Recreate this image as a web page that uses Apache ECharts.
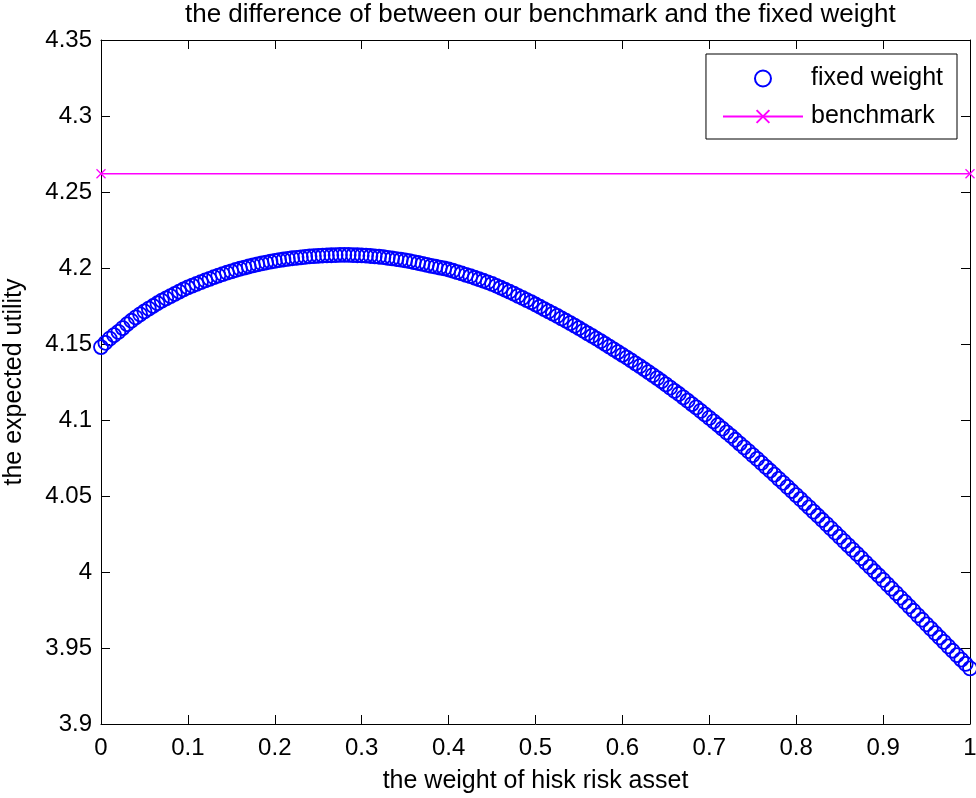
<!DOCTYPE html>
<html>
<head>
<meta charset="utf-8">
<script src="https://cdn.jsdelivr.net/npm/echarts@6/dist/echarts.min.js"></script>
<style>html,body{margin:0;padding:0;background:#fff}#c{width:976px;height:798px}</style>
</head>
<body>
<div id="c"></div>
<script>
const titleText = 'the difference of between our benchmark and the fixed weight';
const xName = 'the weight of hisk risk asset';
const yName = 'the expected utility';
const xTicks = [0, 0.1, 0.2, 0.3, 0.4, 0.5, 0.6, 0.7, 0.8, 0.9, 1];
const yTicks = [3.9, 3.95, 4, 4.05, 4.1, 4.15, 4.2, 4.25, 4.3, 4.35];
const weights = [
0,0.005,0.01,0.015,0.02,0.025,0.03,0.035,0.04,0.045,0.05,0.055,0.06,0.065,0.07,0.075,0.08,0.085,0.09,0.095,
0.1,0.105,0.11,0.115,0.12,0.125,0.13,0.135,0.14,0.145,0.15,0.155,0.16,0.165,0.17,0.175,0.18,0.185,0.19,0.195,
0.2,0.205,0.21,0.215,0.22,0.225,0.23,0.235,0.24,0.245,0.25,0.255,0.26,0.265,0.27,0.275,0.28,0.285,0.29,0.295,
0.3,0.305,0.31,0.315,0.32,0.325,0.33,0.335,0.34,0.345,0.35,0.355,0.36,0.365,0.37,0.375,0.38,0.385,0.39,0.395,
0.4,0.405,0.41,0.415,0.42,0.425,0.43,0.435,0.44,0.445,0.45,0.455,0.46,0.465,0.47,0.475,0.48,0.485,0.49,0.495,
0.5,0.505,0.51,0.515,0.52,0.525,0.53,0.535,0.54,0.545,0.55,0.555,0.56,0.565,0.57,0.575,0.58,0.585,0.59,0.595,
0.6,0.605,0.61,0.615,0.62,0.625,0.63,0.635,0.64,0.645,0.65,0.655,0.66,0.665,0.67,0.675,0.68,0.685,0.69,0.695,
0.7,0.705,0.71,0.715,0.72,0.725,0.73,0.735,0.74,0.745,0.75,0.755,0.76,0.765,0.77,0.775,0.78,0.785,0.79,0.795,
0.8,0.805,0.81,0.815,0.82,0.825,0.83,0.835,0.84,0.845,0.85,0.855,0.86,0.865,0.87,0.875,0.88,0.885,0.89,0.895,
0.9,0.905,0.91,0.915,0.92,0.925,0.93,0.935,0.94,0.945,0.95,0.955,0.96,0.965,0.97,0.975,0.98,0.985,0.99,0.995,
1];
const fixedUtility = [
4.148,4.1508,4.1535,4.1558,4.158,4.1605,4.163,4.1653,4.1675,4.1695,4.1715,4.1733,4.175,4.1768,4.1785,4.18,4.1815,4.183,4.1845,4.1859,
4.1872,4.1884,4.1895,4.1907,4.1918,4.1929,4.194,4.195,4.196,4.1969,4.1978,4.1987,4.1995,4.2003,4.201,4.2017,4.2024,4.203,4.2036,4.2042,
4.2047,4.2052,4.2056,4.206,4.2064,4.2067,4.207,4.2073,4.2076,4.2078,4.208,4.2082,4.2083,4.2084,4.2085,4.2086,4.2086,4.2086,4.2085,4.2084,
4.2083,4.2081,4.2079,4.2077,4.2074,4.2071,4.2067,4.2063,4.2059,4.2055,4.205,4.2045,4.2039,4.2033,4.2027,4.2021,4.2014,4.2009,4.2003,4.1997,
4.199,4.1982,4.1973,4.1964,4.1955,4.1946,4.1936,4.1926,4.1916,4.1906,4.1895,4.1883,4.187,4.1857,4.1844,4.1831,4.1817,4.1803,4.1789,4.1775,
4.176,4.1745,4.173,4.1715,4.17,4.1685,4.1669,4.1653,4.1637,4.1621,4.1604,4.1587,4.157,4.1553,4.1536,4.1519,4.1501,4.1483,4.1465,4.1447,
4.1429,4.1411,4.1392,4.1373,4.1354,4.1335,4.1315,4.1295,4.1275,4.1255,4.1234,4.1213,4.1192,4.1171,4.1149,4.1127,4.1105,4.1083,4.106,4.1037,
4.1014,4.0991,4.0967,4.0943,4.0919,4.0895,4.087,4.0845,4.082,4.0795,4.0769,4.0744,4.0718,4.0692,4.0666,4.064,4.0613,4.0587,4.056,4.0533,
4.0506,4.0479,4.0452,4.0425,4.0397,4.037,4.0342,4.0315,4.0287,4.0259,4.0231,4.0203,4.0175,4.0147,4.0119,4.0091,4.0062,4.0034,4.0005,3.9977,
3.9948,3.9919,3.989,3.9861,3.9832,3.9803,3.9774,3.9745,3.9715,3.9686,3.9656,3.9627,3.9598,3.9569,3.954,3.9511,3.9482,3.9453,3.9424,3.9395,
3.9366];
const benchX = [0, 1];
const benchY = [4.262, 4.262];

const FONT = 'Liberation Sans';
const fmt = v => String(+(+v).toFixed(2));
const xMin = xTicks[0], xMax = xTicks[xTicks.length - 1], xInt = +(xTicks[1] - xTicks[0]).toFixed(2);
const yMin = yTicks[0], yMax = yTicks[yTicks.length - 1], yInt = +(yTicks[1] - yTicks[0]).toFixed(2);

function axisBase(extra) {
  return Object.assign({
    axisLine: { show: true, onZero: false, lineStyle: { color: '#000', width: 1 } },
    axisTick: { show: true, inside: true, length: 9, lineStyle: { color: '#000', width: 1 } },
    splitLine: { show: false },
  }, extra);
}

const chart = echarts.init(document.getElementById('c'), null, { renderer: 'canvas' });
chart.setOption({
  backgroundColor: '#fff',
  animation: false,
  textStyle: { fontFamily: FONT },
  title: {
    text: titleText, left: 180, top: -3,
    textStyle: { fontFamily: FONT, fontSize: 26, fontWeight: 'normal', color: '#000' }
  },
  grid: { left: 101, right: 6, top: 40, bottom: 74, containLabel: false, outerBoundsMode: 'none' },
  legend: {
    orient: 'vertical', right: 19, top: 54,
    padding: [12, 14, 10, 16], itemGap: 13,
    itemWidth: 80, itemHeight: 16,
    borderColor: '#000', borderWidth: 1, backgroundColor: '#fff',
    textStyle: { fontFamily: FONT, fontSize: 25, color: '#000', padding: [0, 0, 0, 3] },
    data: ['fixed weight', 'benchmark']
  },
  xAxis: [
    axisBase({ type: 'value', position: 'bottom', min: xMin, max: xMax, interval: xInt,
      name: xName, nameLocation: 'middle', nameGap: 45,
      nameTextStyle: { fontFamily: FONT, fontSize: 25, color: '#000' },
      axisLabel: { fontFamily: FONT, fontSize: 24, color: '#000', margin: 12, formatter: fmt } }),
    axisBase({ type: 'value', position: 'top', min: xMin, max: xMax, interval: xInt,
      axisLabel: { show: false } })
  ],
  yAxis: [
    axisBase({ type: 'value', position: 'left', min: yMin, max: yMax, interval: yInt,
      name: yName, nameLocation: 'middle', nameGap: 74,
      nameTextStyle: { fontFamily: FONT, fontSize: 25, color: '#000' },
      axisLabel: { fontFamily: FONT, fontSize: 24, color: '#000', margin: 9, formatter: fmt } }),
    axisBase({ type: 'value', position: 'right', min: yMin, max: yMax, interval: yInt,
      axisLabel: { show: false } })
  ],
  series: [
    {
      name: 'fixed weight', type: 'scatter', xAxisIndex: 0, yAxisIndex: 0,
      symbol: 'circle', symbolSize: 14, clip: false, large: false,
      itemStyle: { color: 'rgba(0,0,255,0)', borderColor: '#0000ff', borderWidth: 1.8, opacity: 1 },
      data: weights.map((w, i) => [w, fixedUtility[i]]),
      z: 3
    },
    {
      name: 'benchmark', type: 'line', xAxisIndex: 0, yAxisIndex: 0,
      symbol: 'path://M0,0L10,10M10,0L0,10', symbolSize: 9, showSymbol: true, clip: false,
      lineStyle: { color: '#ff00ff', width: 1.5 },
      itemStyle: { color: '#ff00ff', borderColor: '#ff00ff', borderWidth: 1.3 },
      data: benchX.map((x, i) => [x, benchY[i]]),
      z: 4
    }
  ]
});
</script>
</body>
</html>
